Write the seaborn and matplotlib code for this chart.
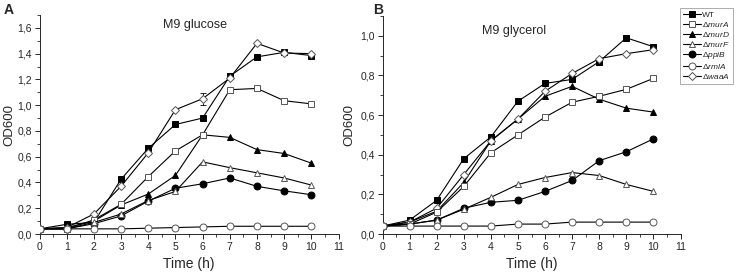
import numpy as np
import pandas as pd
import seaborn as sns
import matplotlib
matplotlib.use("Agg")
import matplotlib.pyplot as plt
from matplotlib.ticker import MultipleLocator, FuncFormatter

# --- data ---
time_h = [0, 1, 2, 3, 4, 5, 6, 7, 8, 9, 10]
strains = ["WT", "murA", "murD", "murF", "ppiB", "rmlA", "waaA"]

# M9 glucose (panel A)
glc_WT   = [0.04, 0.075, 0.09, 0.425, 0.665, 0.85, 0.90, 1.225, 1.375, 1.41, 1.385]
glc_murA = [0.04, 0.04, 0.11, 0.23, 0.445, 0.645, 0.77, 1.12, 1.13, 1.035, 1.01]
glc_murD = [0.04, 0.05, 0.10, 0.225, 0.31, 0.455, 0.77, 0.75, 0.655, 0.625, 0.55]
glc_murF = [0.04, 0.04, 0.09, 0.155, 0.26, 0.33, 0.56, 0.515, 0.475, 0.435, 0.38]
glc_ppiB = [0.04, 0.04, 0.08, 0.14, 0.255, 0.355, 0.39, 0.435, 0.37, 0.335, 0.305]
glc_rmlA = [0.04, 0.04, 0.04, 0.04, 0.045, 0.05, 0.055, 0.06, 0.06, 0.06, 0.06]
glc_waaA = [0.04, 0.05, 0.155, 0.37, 0.63, 0.965, 1.05, 1.21, 1.48, 1.405, 1.40]

# M9 glycerol (panel B)
gly_WT   = [0.04, 0.07, 0.17, 0.38, 0.49, 0.67, 0.76, 0.78, 0.87, 0.99, 0.945]
gly_murA = [0.04, 0.05, 0.11, 0.24, 0.41, 0.50, 0.59, 0.665, 0.695, 0.73, 0.785]
gly_murD = [0.04, 0.06, 0.115, 0.26, 0.47, 0.58, 0.695, 0.745, 0.68, 0.635, 0.615]
gly_murF = [0.04, 0.05, 0.07, 0.125, 0.185, 0.25, 0.285, 0.31, 0.295, 0.25, 0.215]
gly_ppiB = [0.04, 0.05, 0.07, 0.13, 0.16, 0.17, 0.215, 0.27, 0.37, 0.415, 0.48]
gly_rmlA = [0.04, 0.04, 0.04, 0.04, 0.04, 0.05, 0.05, 0.06, 0.06, 0.06, 0.06]
gly_waaA = [0.04, 0.06, 0.13, 0.30, 0.47, 0.58, 0.72, 0.81, 0.885, 0.91, 0.93]

glucose = [glc_WT, glc_murA, glc_murD, glc_murF, glc_ppiB, glc_rmlA, glc_waaA]
glycerol = [gly_WT, gly_murA, gly_murD, gly_murF, gly_ppiB, gly_rmlA, gly_waaA]

# --- styling ---
sns.set_theme(style="ticks")
plt.rcParams["font.family"] = ["Liberation Sans", "DejaVu Sans"]
plt.rcParams["mathtext.fontset"] = "custom"
plt.rcParams["mathtext.it"] = "Liberation Sans:italic"
plt.rcParams["mathtext.rm"] = "Liberation Sans"

markers = ["s", "s", "^", "^", "o", "o", "D"]
filled = [True, False, True, False, True, False, False]
msizes = [4.5, 4.5, 5, 5, 5, 5, 4]
labels = ["WT"] + ["\u0394" + r"$\it{" + s + "}$" for s in strains[1:]]

fig = plt.figure(figsize=(7.38, 2.74), dpi=100)
axA = fig.add_axes([39.5 / 738, 1 - 234 / 274, 299 / 738, 219 / 274])
axB = fig.add_axes([382.5 / 738, 1 - 234 / 274, 298 / 738, 218 / 274])


def draw(ax, series, ymax, ylab_x):
    for i, vals in enumerate(series):
        df = pd.DataFrame({"t": time_h, "od": vals})
        sns.lineplot(data=df, x="t", y="od", ax=ax, color="black", lw=0.8,
                     marker=markers[i], markersize=msizes[i],
                     markerfacecolor="black" if filled[i] else "white",
                     markeredgecolor="black" if filled[i] else "#555555",
                     markeredgewidth=0.7, label=labels[i], legend=False,
                     zorder=3 + i % 2)
    ax.set_xlim(0, 11)
    ax.set_ylim(0, ymax)
    ax.xaxis.set_major_locator(MultipleLocator(1))
    ax.xaxis.set_minor_locator(MultipleLocator(0.5))
    ax.yaxis.set_major_locator(MultipleLocator(0.2))
    ax.yaxis.set_minor_locator(MultipleLocator(0.1))
    ax.yaxis.set_major_formatter(FuncFormatter(lambda v, p: f"{v:.1f}".replace(".", ",")))
    ax.tick_params(which="major", length=3.5, width=0.7, labelsize=7.5, pad=2)
    ax.tick_params(which="minor", length=2, width=0.6)
    for s in ["top", "right"]:
        ax.spines[s].set_visible(False)
    for s in ["left", "bottom"]:
        ax.spines[s].set_linewidth(0.7)
    ax.set_xlabel("Time (h)", fontsize=10, labelpad=4)
    ax.set_ylabel("OD600", fontsize=9.5)
    ax.yaxis.set_label_coords(ylab_x, 0.5)


draw(axA, glucose, 1.7, -0.082)
draw(axB, glycerol, 1.1, -0.09)

# small error bar visible on waaA glucose at 6 h
axA.errorbar([6], [glc_waaA[6]], yerr=[0.045], fmt="none", ecolor="black",
             elinewidth=0.6, capsize=2, capthick=0.6, zorder=2)

axA.text(0.52, 0.98, "M9 glucose", transform=axA.transAxes, ha="center", va="top", fontsize=9)
axB.text(0.44, 0.96, "M9 glycerol", transform=axB.transAxes, ha="center", va="top", fontsize=9)

fig.text(4 / 738, 1 - 3 / 274, "A", fontsize=10, fontweight="bold", va="top")
fig.text(373 / 738, 1 - 3 / 274, "B", fontsize=10, fontweight="bold", va="top")

handles, labs = axB.get_legend_handles_labels()
leg = fig.legend(handles, labs, loc="upper left", bbox_to_anchor=(680 / 738, 1 - 8 / 274),
                 fontsize=6, frameon=True, fancybox=False, edgecolor="#888888",
                 handlelength=2.2, handletextpad=0.1, labelspacing=0.12,
                 borderpad=0.35, borderaxespad=0)
leg.get_frame().set_linewidth(0.6)

fig.savefig("out.png", dpi=100)
